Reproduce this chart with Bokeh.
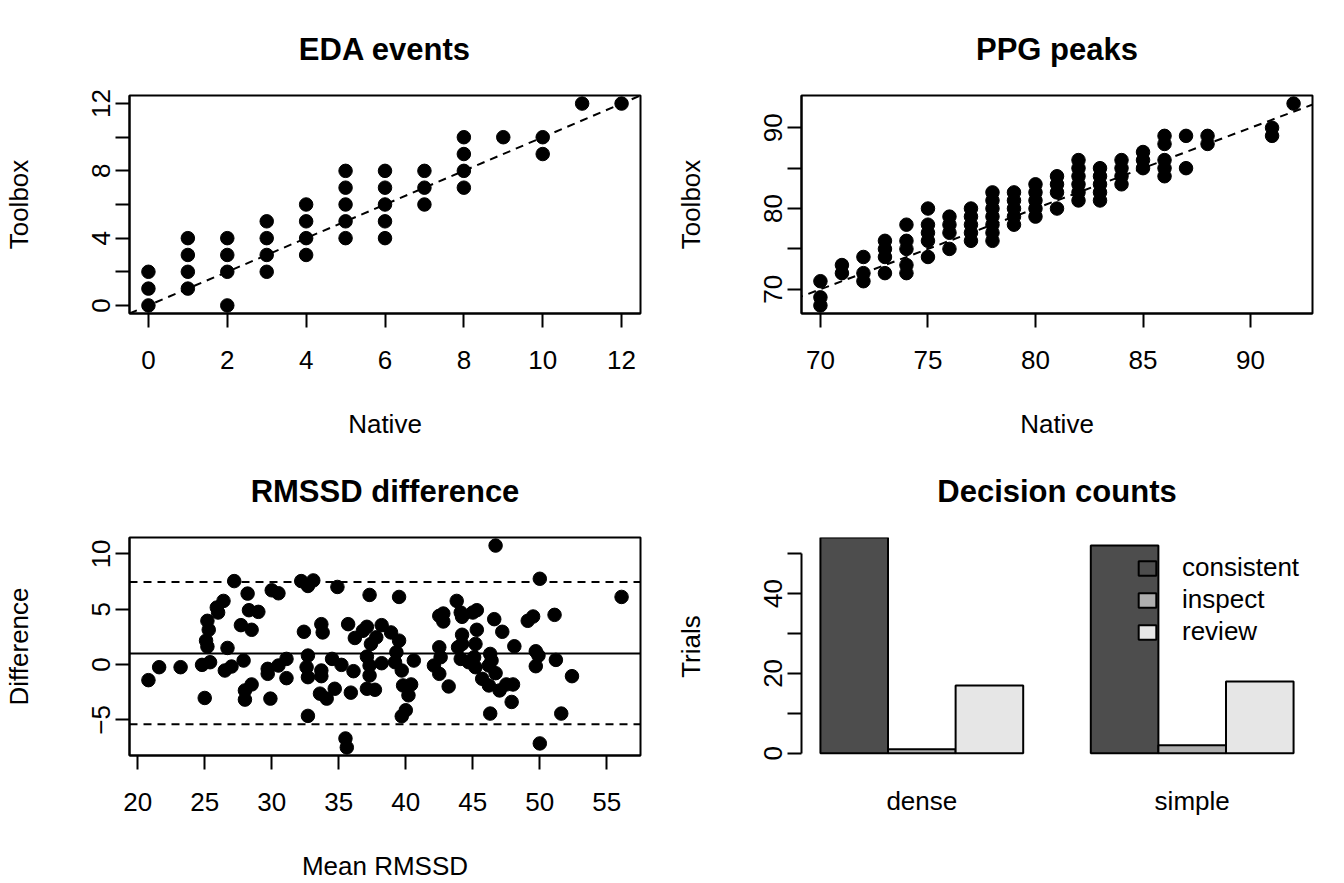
from bokeh.plotting import figure
from bokeh.layouts import gridplot
from bokeh.models import Range1d, FixedTicker, Slope, Span, Legend, LegendItem
from bokeh.embed import file_html
from bokeh.resources import INLINE

FONT = "Liberation Sans"

# EDA events: native vs toolbox counts
eda_native = [0, 0, 0, 1, 1, 1, 1, 2, 2, 2, 2, 3, 3, 3, 3, 4, 4, 4, 4,
              5, 5, 5, 5, 5, 6, 6, 6, 6, 6, 7, 7, 7, 8, 8, 8, 8, 9, 10, 10, 11, 12]
eda_toolbox = [0, 1, 2, 1, 2, 3, 4, 0, 2, 3, 4, 2, 3, 4, 5, 3, 4, 5, 6,
               4, 5, 6, 7, 8, 4, 5, 6, 7, 8, 6, 7, 8, 7, 8, 9, 10, 10, 9, 10, 12, 12]

# PPG peaks: native vs toolbox
ppg_native = [70, 70, 70, 71, 71, 72, 72, 72, 73, 73, 73, 73,
              74, 74, 74, 74, 74, 75, 75, 75, 75, 75, 76, 76, 76, 76,
              77, 77, 77, 77, 77, 78, 78, 78, 78, 78, 78, 78,
              79, 79, 79, 79, 79, 80, 80, 80, 80, 80, 81, 81, 81, 81,
              82, 82, 82, 82, 82, 82, 83, 83, 83, 83, 83, 84, 84, 84, 84,
              85, 85, 85, 86, 86, 86, 86, 86, 87, 87, 88, 88, 91, 91, 92]
ppg_toolbox = [71, 69, 68, 73, 72, 74, 72, 71, 76, 75, 74, 72,
               78, 76, 75, 73, 72, 80, 78, 77, 76, 74, 79, 78, 77, 75,
               80, 79, 78, 77, 76, 82, 81, 80, 79, 78, 77, 76,
               82, 81, 80, 79, 78, 83, 82, 81, 80, 79, 84, 83, 82, 80,
               86, 85, 84, 83, 82, 81, 85, 84, 83, 82, 81, 86, 85, 84, 83,
               87, 86, 85, 89, 88, 86, 85, 84, 89, 85, 89, 88, 90, 89, 93]

# RMSSD Bland-Altman: mean of methods and difference
rmssd_mean = [20.8, 21.6, 23.2, 24.8, 25.4, 25.0, 25.2, 25.3, 25.1, 25.2,
              25.9, 26.0, 26.4, 26.7, 26.5, 27.0, 27.2, 27.7, 27.9, 28.2,
              28.3, 28.5, 29.0, 28.0, 28.0, 28.5, 29.7, 29.7, 29.9, 30.0,
              30.5, 30.5, 31.1, 31.1, 32.2, 32.7, 33.1, 32.4, 32.7, 32.6,
              32.7, 32.7, 33.7, 33.8, 33.7, 33.7, 33.6, 34.1, 34.5, 34.7,
              34.9, 35.2, 35.7, 36.1, 36.2, 35.9, 35.5, 35.6, 36.8, 37.1,
              37.4, 37.8, 37.3, 37.1, 37.3, 37.3, 37.1, 37.7, 38.2, 38.2,
              38.9, 39.5, 39.3, 39.2, 39.5, 39.7, 39.8, 40.4, 40.2, 40.0,
              39.7, 40.6, 42.1, 42.5, 42.6, 42.5, 42.5, 42.8, 42.8, 43.2,
              43.8, 44.1, 44.2, 45.0, 45.3, 44.2, 43.9, 44.2, 44.1, 44.7,
              45.1, 45.2, 45.3, 45.2, 45.7, 46.2, 46.3, 46.4, 46.2, 46.7,
              46.6, 46.7, 46.3, 47.2, 47.0, 47.5, 48.0, 47.9, 48.1, 49.1,
              49.5, 49.7, 49.9, 49.7, 50.0, 50.0, 51.2, 51.1, 51.6, 52.4, 56.1]
rmssd_diff = [-1.41, -0.24, -0.24, -0.03, 0.21, -3.02, 3.95, 3.14, 2.16, 1.62,
              5.15, 4.70, 5.75, 1.50, -0.54, -0.18, 7.54, 3.56, 0.36, 6.41,
              4.91, 3.14, 4.76, -2.34, -3.17, -1.80, -0.39, -0.84, -3.08, 6.71,
              6.44, -0.09, 0.51, -1.23, 7.54, 7.10, 7.60, 2.96, 0.81, -0.24,
              -1.14, -4.64, 3.65, 2.90, -0.54, -1.05, -2.63, -3.08, 0.51, -2.19,
              7.01, -0.03, 3.65, -0.60, 2.40, -2.54, -6.68, -7.49, 3.05, 3.41,
              1.86, 2.46, 6.29, 0.72, -0.09, -0.99, -2.19, -2.28, 0.12, 3.56,
              2.90, 2.16, 1.11, 0.21, 6.11, -0.54, -1.89, -1.80, -2.78, -4.13,
              -4.67, 0.36, -0.09, 1.56, 0.66, -0.84, 4.40, 4.61, 3.89, -1.98,
              5.75, 4.70, 4.31, 4.70, 4.91, 2.69, 1.56, 1.86, 0.51, 0.21,
              0.66, -0.24, 3.14, 1.86, -1.29, -1.89, 0.96, 0.36, -0.09, -0.78,
              4.10, 10.75, -4.43, 2.96, -2.34, -1.80, -1.80, -3.38, 1.65, 3.95,
              4.34, 1.20, 0.81, -0.15, 7.75, -7.13, 0.42, 4.49, -4.43, -1.05, 6.11]
rmssd_bias = 1.0
rmssd_loa = [-5.4, 7.45]

# Decision counts
groups = ["dense", "simple"]
decisions = ["consistent", "inspect", "review"]
counts = {"consistent": [54, 52], "inspect": [1, 2], "review": [17, 18]}
bar_colors = ["#4D4D4D", "#AEAEAE", "#E6E6E6"]

DASH = "8 6"
FRAME_H = 218


def padded(vals, frac=0.04):
    lo, hi = min(vals), max(vals)
    d = (hi - lo) * frac
    return Range1d(lo - d, hi + d)


def style(p, box=True):
    p.grid.visible = False
    p.background_fill_color = "white"
    p.border_fill_color = "white"
    p.outline_line_color = "black" if box else None
    p.outline_line_width = 2
    p.title.text_font = FONT
    p.title.text_font_size = "31px"
    p.title.text_font_style = "bold"
    p.title.text_color = "black"
    p.title.align = "center"
    p.title.standoff = 57
    for ax in p.xaxis + p.yaxis:
        ax.axis_line_width = 2
        ax.major_tick_line_width = 2
        ax.major_tick_out = 14
        ax.major_tick_in = 0
        ax.minor_tick_line_color = None
        ax.major_label_text_font = FONT
        ax.major_label_text_font_size = "26px"
        ax.major_label_text_color = "black"
        ax.axis_label_text_font = FONT
        ax.axis_label_text_font_size = "26px"
        ax.axis_label_text_font_style = "normal"
        ax.axis_label_text_color = "black"
    for ax in p.xaxis:
        ax.major_label_standoff = 23
        ax.axis_label_standoff = 37
    for ax in p.yaxis:
        ax.major_label_orientation = "vertical"
        ax.major_label_standoff = 5
        ax.axis_label_standoff = 56


def make_fig(title, h, top, **kw):
    return figure(title=title, width=672, height=h, min_border_left=128,
                  min_border_right=32, min_border_top=top,
                  min_border_bottom=h - top - FRAME_H, toolbar_location=None,
                  output_backend="svg", **kw)


# Panel 1: EDA events
p1 = make_fig("EDA events", 441, 95,
              x_range=padded(eda_native), y_range=padded(eda_toolbox),
              x_axis_label="Native", y_axis_label="Toolbox")
p1.scatter(eda_native, eda_toolbox, size=13.5, color="black")
p1.add_layout(Slope(gradient=1, y_intercept=0, line_dash=DASH, line_width=2, line_color="black"))
style(p1)
p1.xaxis.ticker = FixedTicker(ticks=list(range(0, 13, 2)))
p1.yaxis.ticker = FixedTicker(ticks=list(range(0, 13, 2)))
p1.yaxis.major_label_overrides = {2: "", 6: "", 10: ""}

# Panel 2: PPG peaks
p2 = make_fig("PPG peaks", 441, 95,
              x_range=padded(ppg_native), y_range=padded(ppg_toolbox),
              x_axis_label="Native", y_axis_label="Toolbox")
p2.scatter(ppg_native, ppg_toolbox, size=13.5, color="black")
p2.add_layout(Slope(gradient=1, y_intercept=0, line_dash=DASH, line_width=2, line_color="black"))
style(p2)
p2.xaxis.ticker = FixedTicker(ticks=[70, 75, 80, 85, 90])
p2.yaxis.ticker = FixedTicker(ticks=[70, 75, 80, 85, 90])
p2.yaxis.major_label_overrides = {75: "", 85: ""}

# Panel 3: RMSSD difference
p3 = make_fig("RMSSD difference", 442, 96,
              x_range=padded(rmssd_mean), y_range=padded(rmssd_diff),
              x_axis_label="Mean RMSSD", y_axis_label="Difference")
p3.scatter(rmssd_mean, rmssd_diff, size=13.5, color="black")
p3.add_layout(Span(location=rmssd_bias, dimension="width", line_width=2, line_color="black"))
for loa in rmssd_loa:
    p3.add_layout(Span(location=loa, dimension="width", line_width=2,
                       line_color="black", line_dash=DASH))
style(p3)
p3.xaxis.ticker = FixedTicker(ticks=list(range(20, 56, 5)))
p3.yaxis.ticker = FixedTicker(ticks=[-5, 0, 5, 10])

# Panel 4: Decision counts (grouped bars, R barplot layout)
n_dec = len(decisions)
bar_left = [1 + g * (n_dec + 1) for g in range(len(groups))]
group_centers = [b + n_dec / 2 for b in bar_left]
max_count = max(max(v) for v in counts.values())
p4 = make_fig("Decision counts", 442, 96,
              x_range=padded([bar_left[0], bar_left[-1] + n_dec]),
              y_range=Range1d(-0.01 * max_count, max_count),
              y_axis_label="Trials")
items = []
for d, (name, col) in enumerate(zip(decisions, bar_colors)):
    xs = [b + d + 0.5 for b in bar_left]
    r = p4.vbar(x=xs, top=counts[name], width=1, bottom=0, fill_color=col,
                line_color="black", line_width=2)
    items.append(LegendItem(label=name, renderers=[r]))
style(p4, box=False)
p4.yaxis.ticker = FixedTicker(ticks=list(range(0, 51, 10)))
p4.yaxis.bounds = (0, 50)
p4.yaxis.major_label_overrides = {10: "", 30: "", 50: ""}
p4.xaxis.ticker = FixedTicker(ticks=group_centers)
p4.xaxis.major_label_overrides = {c: g for c, g in zip(group_centers, groups)}
p4.xaxis.axis_line_color = None
p4.xaxis.major_tick_line_color = None
p4.xaxis.major_label_standoff = 16
legend = Legend(items=items, location=(335, 108), glyph_width=22, glyph_height=18,
                label_text_font=FONT, label_text_font_size="26px",
                label_text_color="black", label_standoff=24, spacing=1,
                padding=0, margin=0, border_line_color=None,
                background_fill_alpha=0)
p4.add_layout(legend)

grid = gridplot([[p1, p2], [p3, p4]], toolbar_location=None)
open("out.html", "w").write(file_html(grid, INLINE))
